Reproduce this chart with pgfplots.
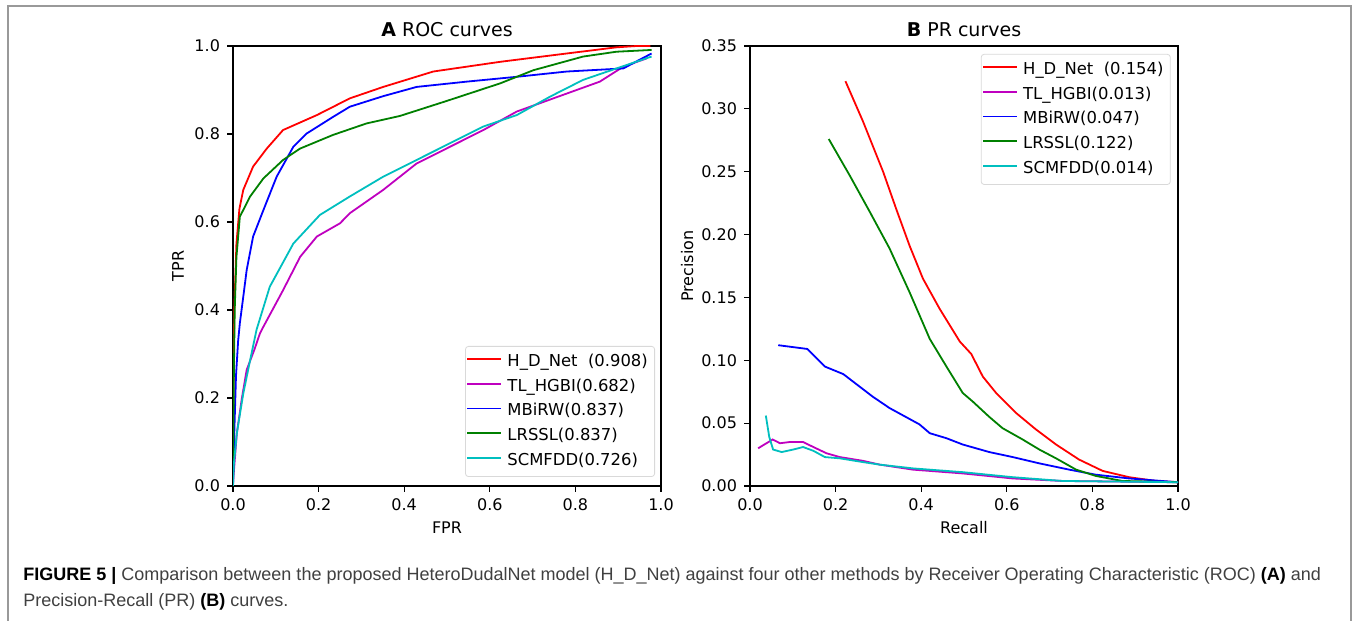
\documentclass[border=0pt]{standalone}
\usepackage{fontspec}
\setmainfont{DejaVu Sans}
\newfontfamily\capfont{Liberation Sans}
\usepackage{pgfplots}
\pgfplotsset{compat=1.18}

\definecolor{cRed}{rgb}{1,0,0}
\definecolor{cMag}{rgb}{0.75,0,0.75}
\definecolor{cBlu}{rgb}{0,0,1}
\definecolor{cGrn}{rgb}{0,0.5,0}
\definecolor{cCya}{rgb}{0,0.75,0.75}

\pgfplotsset{
  mpl/.style={
    scale only axis, width=214pt, height=220pt,
    anchor=south west,
    axis line style={line width=0.6pt},
    tick align=outside, major tick length=3pt,
    tick style={line width=0.6pt, black},
    xtick pos=left, ytick pos=left,
    tick label style={font=\fontsize{8}{9.6}\selectfont},
    /pgf/number format/assume math mode=true,
    label style={font=\fontsize{8}{9.6}\selectfont},
    title style={font=\fontsize{9.5}{11}\selectfont, at={(0.5,1)}, anchor=center, yshift=2pt},
    legend cell align=left,
    legend style={font=\fontsize{8.2}{10}\selectfont, draw=black!15, rounded corners=1.5pt,
      fill=white, inner xsep=0.5pt, inner ysep=3pt, row sep=2.9pt,
      nodes={inner xsep=2.9pt, inner ysep=1pt, text height=6pt, text depth=1.5pt}},
    legend image code/.code={\path[draw, line width=0.9pt, #1] (0pt,1.5pt) -- (16.7pt,1.5pt);},
    every axis plot/.append style={line width=0.9pt, mark=none},
  }
}

\begin{document}
\begin{tikzpicture}[x=0.5pt,y=0.5pt]
\useasboundingbox (0,0) rectangle (1357,621);
\fill[white] (0,0) rectangle (1357,621);
\draw[black!40, line width=0.6pt] (8,0) -- (8,615) -- (1351,615) -- (1351,0);

% A: ROC curves
\begin{axis}[mpl, at={(116.5pt,67.5pt)},
    xmin=0, xmax=1, ymin=0, ymax=1,
    xtick={0,0.2,0.4,0.6,0.8,1.0}, ytick={0,0.2,0.4,0.6,0.8,1.0},
    xticklabel style={/pgf/number format/.cd, fixed, fixed zerofill, precision=1},
    yticklabel style={/pgf/number format/.cd, fixed, fixed zerofill, precision=1},
    title={\textbf{A} ROC curves},
    xlabel={FPR}, ylabel={TPR},
    xlabel style={at={(axis description cs:0.5,-0.0955)}, anchor=center},
    ylabel style={at={(axis description cs:-0.1285,0.5)}, anchor=center},
    legend style={at={(0.986,0.0205)}, anchor=south east},
  ]
\addplot[color=cRed] coordinates {(0,0) (0.001,0.2) (0.003,0.4) (0.008,0.55) (0.015,0.63) (0.024,0.673) (0.047,0.726) (0.079,0.767) (0.117,0.809) (0.196,0.843) (0.273,0.881) (0.351,0.907) (0.468,0.942) (0.624,0.964) (0.780,0.983) (0.896,0.997) (0.943,1.0) (0.975,1.0)};
\addlegendentry{H\_D\_Net\ \ (0.908)}
\addplot[color=cMag] coordinates {(0,0) (0.001,0.02) (0.009,0.12) (0.02,0.195) (0.032,0.264) (0.05,0.31) (0.063,0.347) (0.071,0.362) (0.117,0.445) (0.157,0.521) (0.196,0.567) (0.250,0.597) (0.273,0.620) (0.351,0.673) (0.429,0.733) (0.507,0.771) (0.585,0.809) (0.663,0.851) (0.780,0.892) (0.857,0.919) (0.912,0.953) (0.967,0.972)};
\addlegendentry{TL\_HGBI(0.682)}
\addplot[color=cBlu] coordinates {(0,0) (0.003,0.12) (0.007,0.25) (0.012,0.33) (0.016,0.37) (0.024,0.43) (0.032,0.491) (0.047,0.567) (0.071,0.627) (0.102,0.703) (0.141,0.771) (0.172,0.801) (0.234,0.839) (0.273,0.862) (0.351,0.886) (0.429,0.907) (0.546,0.919) (0.663,0.930) (0.780,0.942) (0.912,0.949) (0.935,0.961) (0.978,0.983)};
\addlegendentry{MBiRW(0.837)}
\addplot[color=cGrn] coordinates {(0,0) (0.002,0.25) (0.004,0.4) (0.008,0.52) (0.016,0.612) (0.040,0.658) (0.071,0.699) (0.117,0.741) (0.157,0.767) (0.234,0.798) (0.312,0.824) (0.390,0.841) (0.499,0.875) (0.624,0.915) (0.702,0.945) (0.818,0.976) (0.896,0.987) (0.978,0.991)};
\addlegendentry{LRSSL(0.837)}
\addplot[color=cCya] coordinates {(0,0) (0.002,0.05) (0.009,0.12) (0.024,0.21) (0.040,0.286) (0.055,0.355) (0.086,0.453) (0.141,0.551) (0.203,0.616) (0.273,0.658) (0.351,0.703) (0.429,0.741) (0.507,0.779) (0.585,0.817) (0.663,0.843) (0.741,0.885) (0.818,0.923) (0.896,0.949) (0.978,0.976)};
\addlegendentry{SCMFDD(0.726)}
\end{axis}

% B: PR curves
\begin{axis}[mpl, at={(375pt,67.5pt)},
    xmin=0, xmax=1, ymin=0, ymax=0.35,
    xtick={0,0.2,0.4,0.6,0.8,1.0}, ytick={0,0.05,0.10,0.15,0.20,0.25,0.30,0.35},
    xticklabel style={/pgf/number format/.cd, fixed, fixed zerofill, precision=1},
    yticklabel style={/pgf/number format/.cd, fixed, fixed zerofill, precision=2},
    scaled y ticks=false,
    title={\textbf{B} PR curves},
    xlabel={Recall}, ylabel={Precision},
    xlabel style={at={(axis description cs:0.5,-0.0955)}, anchor=center},
    ylabel style={at={(axis description cs:-0.147,0.5)}, anchor=center},
    legend style={at={(0.983,0.982)}, anchor=north east},
  ]
\addplot[color=cRed] coordinates {(0.223,0.322) (0.264,0.290) (0.311,0.250) (0.342,0.220) (0.373,0.191) (0.404,0.165) (0.443,0.141) (0.490,0.115) (0.517,0.105) (0.544,0.087) (0.575,0.074) (0.622,0.058) (0.668,0.045) (0.715,0.033) (0.769,0.021) (0.824,0.012) (0.886,0.007) (0.948,0.004) (1.0,0.003)};
\addlegendentry{H\_D\_Net\ \ (0.154)}
\addplot[color=cMag] coordinates {(0.019,0.030) (0.053,0.037) (0.070,0.034) (0.093,0.035) (0.124,0.035) (0.148,0.031) (0.179,0.026) (0.210,0.023) (0.264,0.020) (0.303,0.017) (0.381,0.013) (0.497,0.010) (0.614,0.006) (0.730,0.004) (1.0,0.003)};
\addlegendentry{TL\_HGBI(0.013)}
\addplot[color=cBlu] coordinates {(0.066,0.112) (0.134,0.109) (0.175,0.095) (0.218,0.089) (0.287,0.071) (0.326,0.062) (0.396,0.049) (0.420,0.042) (0.459,0.038) (0.497,0.033) (0.559,0.027) (0.614,0.023) (0.676,0.018) (0.746,0.013) (0.808,0.009) (0.886,0.006) (1.0,0.003)};
\addlegendentry{MBiRW(0.047)}
\addplot[color=cGrn] coordinates {(0.184,0.276) (0.233,0.247) (0.280,0.218) (0.326,0.189) (0.373,0.154) (0.420,0.117) (0.459,0.095) (0.497,0.074) (0.521,0.067) (0.559,0.055) (0.590,0.046) (0.637,0.037) (0.676,0.029) (0.715,0.022) (0.762,0.013) (0.808,0.008) (0.870,0.004) (1.0,0.003)};
\addlegendentry{LRSSL(0.122)}
\addplot[color=cCya] coordinates {(0.037,0.056) (0.045,0.039) (0.054,0.029) (0.074,0.027) (0.101,0.029) (0.124,0.031) (0.148,0.028) (0.175,0.023) (0.210,0.022) (0.264,0.019) (0.303,0.017) (0.381,0.014) (0.497,0.011) (0.614,0.007) (0.730,0.004) (1.0,0.003)};
\addlegendentry{SCMFDD(0.014)}
\end{axis}

% caption
\node[anchor=base west, inner sep=0pt, font=\capfont\fontsize{9}{10}\selectfont, text=black!75] at (23,40)
  {{\color{black}\textbf{FIGURE 5 |}} Comparison between the proposed HeteroDudalNet model (H\_D\_Net) against four other methods by Receiver Operating Characteristic (ROC) {\color{black}\textbf{(A)}} and};
\node[anchor=base west, inner sep=0pt, font=\capfont\fontsize{9}{10}\selectfont, text=black!75] at (23,14)
  {Precision-Recall (PR) {\color{black}\textbf{(B)}} curves.};
\end{tikzpicture}
\end{document}
